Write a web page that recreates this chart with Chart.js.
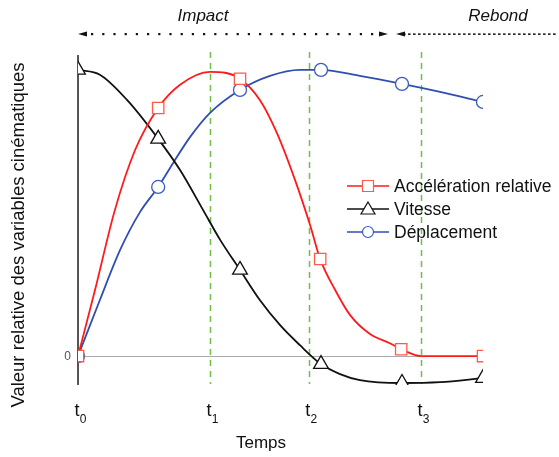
<!DOCTYPE html>
<html>
<head>
<meta charset="utf-8">
<script src="https://cdn.jsdelivr.net/npm/chart.js@4.4.0/dist/chart.umd.min.js"></script>
<style>
  html, body { margin: 0; padding: 0; background: #fff; }
  #wrap { width: 559px; height: 457px; }
</style>
</head>
<body>
<div id="wrap"><canvas id="graphique"></canvas></div>
<script>
// temps relatif (0 = t0, 100 = fin du tracé)
const tempsRepere = [0, 32.6, 57.0, 84.7];
const labelsRepere = ["0", "1", "2", "3"];

const accelT = [0, 4.2, 9.1, 14.1, 19.8, 25.2, 32.6, 36.3, 40.0, 44.9, 49.1, 53.6, 57.3, 59.8, 63.5, 67.2, 72.1, 77.0, 79.8, 84.7, 100];
const accelV = [0, 23.1, 51.0, 72.0, 86.7, 94.8, 99.3, 99.0, 96.9, 89.5, 78.0, 61.5, 45.8, 33.9, 23.1, 14.3, 7.7, 4.5, 2.4, 0, 0];
const accelMarques = [0, 4, 8, 13, 18, 20];

const vitT = [0, 5.4, 12.1, 19.8, 25.2, 30.9, 35.1, 40.0, 44.9, 49.9, 54.8, 60.0, 64.7, 69.6, 80.0, 89.4, 100];
const vitV = [100, 98.3, 89.5, 75.9, 65.0, 51.0, 40.6, 30.1, 19.6, 10.8, 3.8, -2.8, -6.3, -8.4, -9.4, -9.1, -7.7];
const vitMarques = [0, 3, 7, 11, 14, 16];

const deplT = [0, 5.4, 10.4, 15.3, 19.8, 23.5, 27.7, 32.6, 40.0, 47.4, 54.8, 60.0, 69.6, 80.0, 89.4, 100];
const deplV = [0, 19.6, 37.1, 50.3, 59.1, 67.5, 76.6, 85.0, 93.0, 97.9, 100, 100, 97.9, 95.1, 92.3, 88.8];
const deplMarques = [0, 4, 8, 11, 13, 15];

const points = (t, v) => t.map((x, i) => ({x: x, y: v[i]}));
const rayon = (marques, r) => (ctx) => marques.includes(ctx.dataIndex) ? r : 0;

const series = [
  {label: "Accélération relative", couleur: "#ff1a1a", bord: "#ff5a4a", style: "rect", data: points(accelT, accelV), marques: accelMarques, r: 8},
  {label: "Vitesse", couleur: "#111111", bord: "#111111", style: "triangle", data: points(vitT, vitV), marques: vitMarques, r: 8.5},
  {label: "Déplacement", couleur: "#2f4fb0", bord: "#3a5cc0", style: "circle", data: points(deplT, deplV), marques: deplMarques, r: 6.5},
];

const decor = {
  id: "decor",
  beforeDatasetsDraw(chart) {
    const {ctx, chartArea, scales} = chart;
    const x0 = scales.x.getPixelForValue(0);
    const y0 = scales.y.getPixelForValue(0);
    ctx.save();
    // lignes pointillées vertes
    ctx.strokeStyle = "#6cc04a";
    ctx.lineWidth = 1.5;
    ctx.setLineDash([6, 5]);
    tempsRepere.slice(1).forEach(t => {
      const x = Math.round(scales.x.getPixelForValue(t)) + 0.5;
      ctx.beginPath();
      ctx.moveTo(x, 52);
      ctx.lineTo(x, 384);
      ctx.stroke();
    });
    ctx.setLineDash([]);
    // ligne du zéro
    ctx.strokeStyle = "#aaaaaa";
    ctx.lineWidth = 1;
    ctx.beginPath();
    ctx.moveTo(x0, Math.round(y0) + 0.5);
    ctx.lineTo(chartArea.right, Math.round(y0) + 0.5);
    ctx.stroke();
    // axe vertical
    ctx.strokeStyle = "#555555";
    ctx.lineWidth = 2;
    ctx.beginPath();
    ctx.moveTo(x0, chartArea.top);
    ctx.lineTo(x0, chartArea.bottom);
    ctx.stroke();
    ctx.restore();
  },
  afterDraw(chart) {
    const {ctx, scales} = chart;
    ctx.save();
    ctx.textBaseline = "alphabetic";
    // 0
    ctx.font = "12px 'Liberation Sans', Arial, sans-serif";
    ctx.fillStyle = "#555";
    ctx.textAlign = "right";
    ctx.fillText("0", 71, scales.y.getPixelForValue(0) + 4);
    // t0..t3
    ctx.fillStyle = "#111";
    tempsRepere.forEach((t, i) => {
      const x = scales.x.getPixelForValue(t);
      ctx.textAlign = "center";
      ctx.font = "18px 'Liberation Sans', Arial, sans-serif";
      ctx.fillText("t", x - 1, 416);
      ctx.font = "12px 'Liberation Sans', Arial, sans-serif";
      ctx.fillText(labelsRepere[i], x + 5, 423);
    });
    // Temps
    ctx.font = "17px 'Liberation Sans', Arial, sans-serif";
    ctx.textAlign = "center";
    ctx.fillText("Temps", 261, 448);
    // titre vertical
    ctx.save();
    ctx.translate(24, 235);
    ctx.rotate(-Math.PI / 2);
    ctx.font = "18.5px 'Liberation Sans', Arial, sans-serif";
    ctx.fillText("Valeur relative des variables cinématiques", 0, 0);
    ctx.restore();
    // Impact / Rebond
    ctx.font = "italic 17px 'Liberation Sans', Arial, sans-serif";
    ctx.fillText("Impact", 203, 21);
    ctx.fillText("Rebond", 498, 21);
    const ya = 34;
    for (let x = 92; x < 380; x += 11.2) {
      ctx.fillRect(x - 1, ya - 1, 2.2, 2.2);
    }
    for (let x = 404; x < 556; x += 5) {
      ctx.fillRect(x - 1, ya - 0.6, 2.6, 1.5);
    }
    const fleche = (x, dir) => {
      ctx.beginPath();
      ctx.moveTo(x, ya);
      ctx.lineTo(x - dir * 9, ya - 2.5);
      ctx.lineTo(x - dir * 9, ya + 2.5);
      ctx.closePath();
      ctx.fill();
    };
    fleche(78, -1);
    fleche(388, 1);
    fleche(396, -1);
    // légende
    ctx.textAlign = "left";
    ctx.font = "17.5px 'Liberation Sans', Arial, sans-serif";
    series.forEach((s, i) => {
      const y = 186 + i * 23;
      ctx.strokeStyle = s.couleur;
      ctx.lineWidth = 1.6;
      ctx.beginPath();
      ctx.moveTo(347, y);
      ctx.lineTo(389, y);
      ctx.stroke();
      ctx.fillStyle = "#fff";
      ctx.strokeStyle = s.bord;
      ctx.lineWidth = 1.2;
      ctx.beginPath();
      if (s.style === "rect") {
        ctx.rect(362.5, y - 5.5, 11, 11);
      } else if (s.style === "triangle") {
        ctx.moveTo(368, y - 7);
        ctx.lineTo(375, y + 5);
        ctx.lineTo(361, y + 5);
        ctx.closePath();
      } else {
        ctx.arc(368, y, 5.5, 0, Math.PI * 2);
      }
      ctx.fill();
      ctx.stroke();
      ctx.fillStyle = "#111";
      ctx.fillText(s.label, 394, y + 6);
    });
    ctx.restore();
  }
};

const config = {
  type: "line",
  data: {
    datasets: series.map(s => ({
      label: s.label,
      data: s.data,
      borderColor: s.couleur,
      borderWidth: 1.8,
      cubicInterpolationMode: "monotone",
      pointStyle: s.style,
      pointRadius: rayon(s.marques, s.r),
      pointHoverRadius: 0,
      pointBackgroundColor: "#fff",
      pointBorderColor: s.bord,
      pointBorderWidth: 1.3,
    })),
  },
  options: {
    responsive: true,
    maintainAspectRatio: false,
    animation: false,
    layout: {
      padding: {left: 78, right: 76, top: 55, bottom: 72}
    },
    plugins: {
      legend: {display: false},
      tooltip: {enabled: false}
    },
    scales: {
      x: {type: "linear", min: 0, max: 100, display: false},
      y: {type: "linear", min: -10.1, max: 105.2, display: false}
    }
  },
  plugins: [decor]
};

new Chart(document.getElementById("graphique"), config);
</script>
</body>
</html>
